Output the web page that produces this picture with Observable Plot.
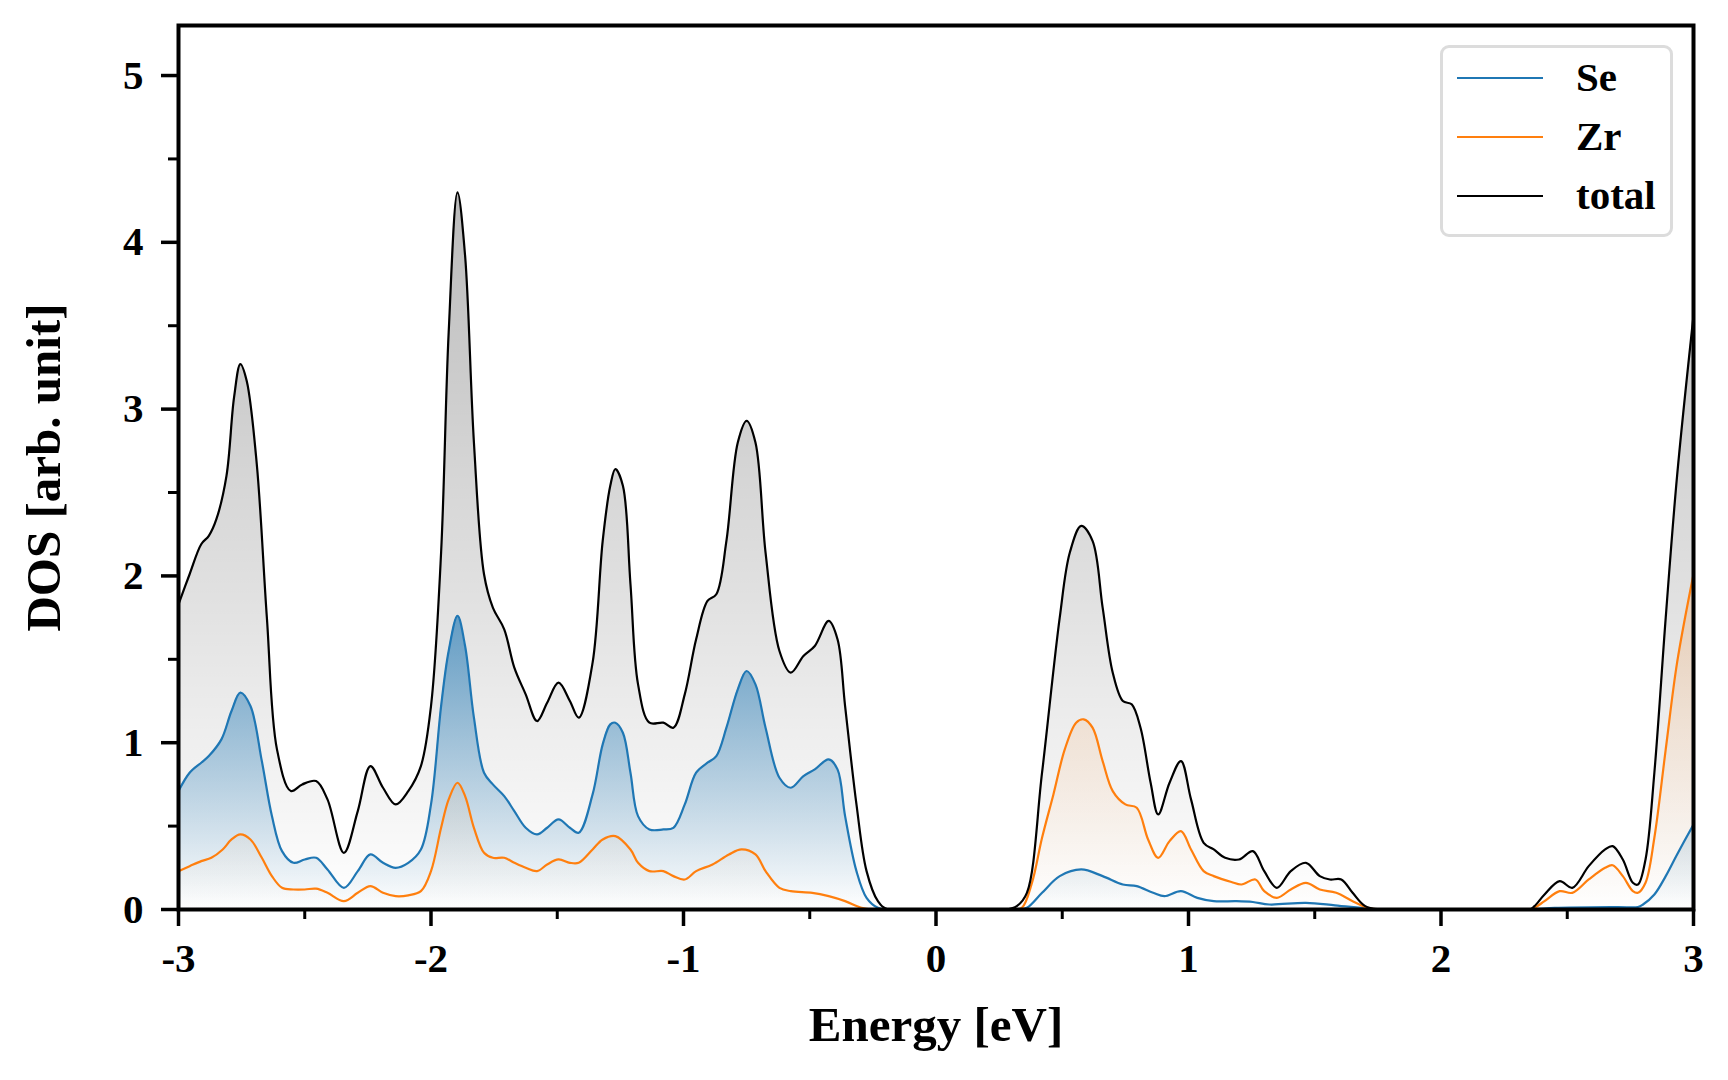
<!DOCTYPE html>
<html>
<head>
<meta charset="utf-8">
<script src="https://cdn.jsdelivr.net/npm/d3@7"></script>
<script src="https://cdn.jsdelivr.net/npm/@observablehq/plot@0.6"></script>
<style>
  html, body { margin: 0; padding: 0; background: #fff; }
  #wrap { position: relative; width: 1728px; height: 1080px; overflow: hidden; }
  #legend {
    position: absolute; left: 1440px; top: 45px; width: 227px; height: 186px;
    border: 3px solid #dcdcdc; border-radius: 9px; background: rgba(255,255,255,0.8);
    box-sizing: content-box; padding: 0;
    font-family: "Liberation Serif", "Times New Roman", serif; font-weight: bold; font-size: 41px;
  }
  .row { display: flex; align-items: center; height: 59px; line-height: 59px; }
  .sw { margin-left: 14px; width: 86px; height: 2px; }
  .lab { margin-left: 33px; color: #000; }
</style>
</head>
<body>
<svg width="0" height="0" style="position:absolute">
  <defs>
    <linearGradient id="gTot" x1="0" y1="0" x2="0" y2="1">
      <stop offset="0" stop-color="#000000" stop-opacity="0.27"/>
      <stop offset="1" stop-color="#000000" stop-opacity="0"/>
    </linearGradient>
    <linearGradient id="gSe" x1="0" y1="0" x2="0" y2="1">
      <stop offset="0" stop-color="#1f77b4" stop-opacity="0.65"/>
      <stop offset="1" stop-color="#1f77b4" stop-opacity="0"/>
    </linearGradient>
    <linearGradient id="gZr" x1="0" y1="0" x2="0" y2="1">
      <stop offset="0" stop-color="#ff7f0e" stop-opacity="0.2"/>
      <stop offset="1" stop-color="#ff7f0e" stop-opacity="0"/>
    </linearGradient>
  </defs>
</svg>
<div id="wrap">
  <div id="legend"></div>
</div>
<script>
// ---- data ----
const seriesNames = ["Se", "Zr", "total"];
const seriesColors = ["#1f77b4", "#ff7f0e", "#000000"];

const totalE = [-3.00,-2.956,-2.91,-2.88,-2.85,-2.81,-2.78,-2.755,-2.73,-2.69,-2.65,-2.61,-2.555,-2.51,-2.455,-2.41,-2.345,-2.29,-2.24,-2.19,-2.14,-2.09,-2.04,-2.00,-1.96,-1.93,-1.895,-1.865,-1.83,-1.79,-1.755,-1.71,-1.67,-1.625,-1.58,-1.54,-1.495,-1.45,-1.415,-1.36,-1.32,-1.29,-1.27,-1.24,-1.21,-1.18,-1.135,-1.08,-1.04,-0.995,-0.95,-0.905,-0.87,-0.83,-0.785,-0.75,-0.715,-0.675,-0.62,-0.575,-0.525,-0.48,-0.425,-0.39,-0.36,-0.315,-0.275,-0.23,-0.19,0.28,0.32,0.36,0.42,0.49,0.53,0.575,0.62,0.66,0.70,0.74,0.775,0.81,0.85,0.88,0.925,0.97,1.01,1.06,1.10,1.145,1.20,1.255,1.30,1.35,1.405,1.465,1.52,1.56,1.605,1.65,1.70,1.76,2.35,2.37,2.41,2.47,2.52,2.585,2.65,2.68,2.72,2.76,2.78,2.81,2.845,2.89,2.935,3.00];
const totalDOS = [1.83,2.01,2.19,2.24,2.34,2.60,3.07,3.27,3.17,2.67,1.75,0.96,0.71,0.75,0.77,0.66,0.34,0.59,0.86,0.73,0.63,0.71,0.86,1.22,2.14,3.46,4.30,3.92,2.80,2.01,1.81,1.68,1.45,1.29,1.13,1.24,1.36,1.25,1.15,1.48,2.21,2.54,2.64,2.54,1.95,1.35,1.12,1.12,1.09,1.29,1.62,1.85,1.89,2.21,2.80,2.93,2.80,2.14,1.55,1.42,1.52,1.58,1.73,1.62,1.22,0.63,0.23,0.05,0.00,0.00,0.02,0.10,0.82,1.75,2.14,2.30,2.21,1.81,1.42,1.25,1.23,1.09,0.76,0.57,0.76,0.89,0.66,0.40,0.36,0.31,0.30,0.35,0.23,0.13,0.23,0.28,0.20,0.18,0.18,0.10,0.02,0.00,0.00,0.02,0.09,0.17,0.13,0.26,0.36,0.38,0.30,0.16,0.15,0.30,0.82,1.75,2.60,3.56];

const seE = [-3.00,-2.956,-2.91,-2.88,-2.83,-2.79,-2.755,-2.715,-2.67,-2.63,-2.59,-2.545,-2.50,-2.455,-2.41,-2.345,-2.29,-2.24,-2.19,-2.14,-2.09,-2.04,-2.00,-1.96,-1.93,-1.895,-1.865,-1.83,-1.79,-1.755,-1.71,-1.67,-1.625,-1.58,-1.54,-1.495,-1.45,-1.415,-1.36,-1.32,-1.29,-1.27,-1.24,-1.21,-1.18,-1.135,-1.08,-1.04,-0.995,-0.95,-0.905,-0.87,-0.83,-0.785,-0.75,-0.715,-0.675,-0.62,-0.575,-0.525,-0.48,-0.425,-0.39,-0.36,-0.315,-0.275,-0.23,-0.19,0.32,0.36,0.42,0.49,0.575,0.66,0.74,0.795,0.86,0.905,0.97,1.035,1.10,1.19,1.255,1.32,1.465,1.58,1.71,1.76,2.35,2.45,2.70,2.78,2.80,2.845,2.89,2.935,3.00];
const seDOS = [0.71,0.82,0.88,0.92,1.02,1.19,1.30,1.22,0.89,0.56,0.35,0.28,0.30,0.31,0.24,0.13,0.23,0.33,0.28,0.25,0.28,0.36,0.63,1.22,1.55,1.76,1.58,1.15,0.82,0.75,0.68,0.59,0.49,0.45,0.49,0.54,0.49,0.46,0.69,0.99,1.11,1.12,1.06,0.82,0.56,0.48,0.48,0.49,0.63,0.82,0.88,0.92,1.09,1.32,1.43,1.35,1.09,0.79,0.73,0.80,0.84,0.90,0.84,0.56,0.23,0.07,0.01,0.00,0.00,0.01,0.10,0.20,0.24,0.20,0.15,0.14,0.10,0.08,0.11,0.07,0.05,0.05,0.045,0.03,0.04,0.025,0.005,0.00,0.00,0.01,0.015,0.015,0.03,0.09,0.20,0.33,0.51];

const zrE = [-3.00,-2.956,-2.91,-2.87,-2.825,-2.79,-2.755,-2.715,-2.67,-2.63,-2.59,-2.545,-2.50,-2.455,-2.41,-2.345,-2.29,-2.24,-2.19,-2.14,-2.09,-2.04,-2.00,-1.96,-1.93,-1.895,-1.865,-1.83,-1.79,-1.755,-1.71,-1.67,-1.625,-1.58,-1.54,-1.495,-1.45,-1.415,-1.36,-1.32,-1.27,-1.21,-1.18,-1.135,-1.08,-1.04,-0.995,-0.95,-0.885,-0.82,-0.77,-0.715,-0.675,-0.62,-0.575,-0.49,-0.425,-0.36,-0.295,-0.25,0.30,0.34,0.38,0.42,0.465,0.51,0.555,0.585,0.62,0.66,0.70,0.75,0.795,0.84,0.88,0.925,0.97,1.01,1.06,1.10,1.17,1.21,1.265,1.30,1.35,1.405,1.465,1.52,1.585,1.65,1.71,1.76,2.35,2.37,2.41,2.47,2.52,2.585,2.65,2.68,2.72,2.76,2.78,2.81,2.845,2.89,2.935,3.00];
const zrDOS = [0.23,0.26,0.29,0.31,0.36,0.42,0.45,0.42,0.31,0.20,0.13,0.12,0.12,0.125,0.10,0.05,0.10,0.14,0.10,0.08,0.085,0.11,0.23,0.49,0.66,0.76,0.68,0.49,0.34,0.31,0.31,0.28,0.25,0.23,0.27,0.30,0.28,0.28,0.36,0.42,0.44,0.36,0.28,0.23,0.23,0.20,0.18,0.23,0.27,0.33,0.36,0.33,0.23,0.13,0.11,0.10,0.08,0.05,0.01,0.00,0.00,0.01,0.16,0.43,0.69,0.96,1.12,1.14,1.09,0.89,0.71,0.63,0.61,0.42,0.31,0.41,0.47,0.36,0.23,0.20,0.165,0.15,0.18,0.11,0.07,0.12,0.16,0.12,0.10,0.05,0.01,0.00,0.00,0.01,0.05,0.11,0.10,0.18,0.25,0.265,0.20,0.11,0.10,0.16,0.43,0.96,1.48,2.01];

const xMajorTicks = [-3, -2, -1, 0, 1, 2, 3];
const xMinorTicks = [-2.5, -1.5, -0.5, 0.5, 1.5, 2.5];
const yMajorTicks = [0, 1, 2, 3, 4, 5];
const yMinorTicks = [0.5, 1.5, 2.5, 3.5, 4.5];
const xTitle = "Energy [eV]";
const yTitle = "DOS [arb. unit]";

// ---- build ----
const rows = (E, V) => E.map((e, i) => ({e, v: V[i]}));
const tot = rows(totalE, totalDOS);
const se = rows(seE, seDOS);
const zr = rows(zrE, zrDOS);

const common = {x: "e", y: "v", curve: "catmull-rom", clip: true};

const chart = Plot.plot({
  width: 1728,
  height: 1080,
  marginLeft: 178,
  marginRight: 35,
  marginTop: 25,
  marginBottom: 171,
  x: {domain: [-3, 3]},
  y: {domain: [0, 5.3]},
  style: {fontFamily: "'Liberation Serif', 'Times New Roman', serif", fontWeight: "bold", background: "white", color: "black"},
  marks: [
    Plot.areaY(tot, {...common, fill: "url(#gTot)"}),
    Plot.areaY(se, {...common, fill: "url(#gSe)"}),
    Plot.areaY(zr, {...common, fill: "url(#gZr)"}),
    Plot.lineY(se, {...common, stroke: seriesColors[0], strokeWidth: 2.2}),
    Plot.lineY(zr, {...common, stroke: seriesColors[1], strokeWidth: 2.2}),
    Plot.lineY(tot, {...common, stroke: seriesColors[2], strokeWidth: 2.2}),
    Plot.axisX({ticks: xMajorTicks, tickSize: 17, tickPadding: 16, tickFormat: d => String(d), fontSize: 41, strokeWidth: 3.5, label: null}),
    Plot.axisX({ticks: xMinorTicks, tickSize: 10, tickFormat: () => "", strokeWidth: 3, label: null}),
    Plot.axisY({ticks: yMajorTicks, tickSize: 17, tickPadding: 18, tickFormat: d => String(d), fontSize: 41, strokeWidth: 3.5, label: null}),
    Plot.axisY({ticks: yMinorTicks, tickSize: 10, tickFormat: () => "", strokeWidth: 3, label: null}),
    Plot.frame({stroke: "black", strokeWidth: 4}),
    Plot.text([xTitle], {text: d => d, frameAnchor: "bottom", textAnchor: "middle", dy: 131, fontSize: 49, fontWeight: "bold"}),
    Plot.text([yTitle], {text: d => d, frameAnchor: "left", textAnchor: "middle", dx: -134, rotate: -90, fontSize: 49, fontWeight: "bold"})
  ]
});

const wrap = document.getElementById("wrap");
wrap.insertBefore(chart, wrap.firstChild);

const legend = document.getElementById("legend");
seriesNames.forEach((name, i) => {
  const row = document.createElement("div");
  row.className = "row";
  const sw = document.createElement("div");
  sw.className = "sw";
  sw.style.background = seriesColors[i];
  const lab = document.createElement("span");
  lab.className = "lab";
  lab.textContent = name;
  row.appendChild(sw);
  row.appendChild(lab);
  legend.appendChild(row);
});
</script>
</body>
</html>
